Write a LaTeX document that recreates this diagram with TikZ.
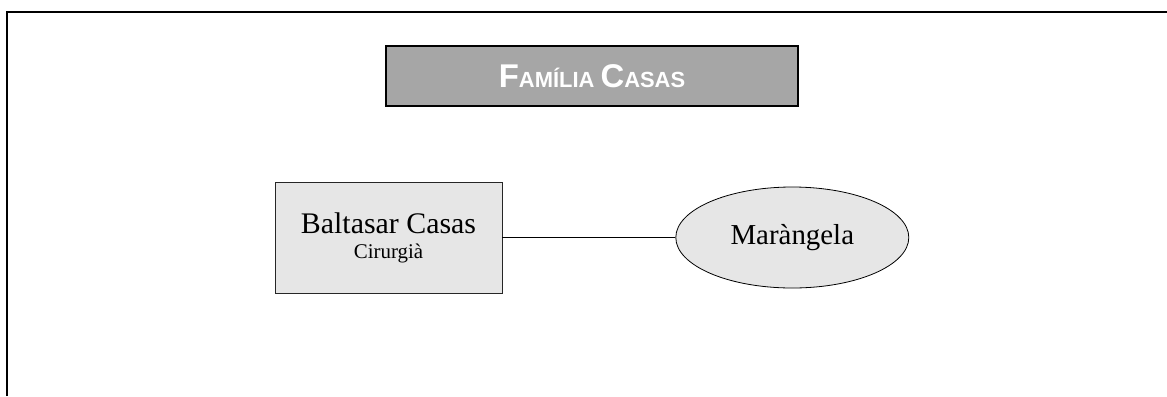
\documentclass[tikz,border=0pt]{standalone}
\usepackage{fontspec}
\setmainfont{Liberation Serif}
\newfontfamily\titlefont{Liberation Sans}
\usetikzlibrary{positioning, shapes.geometric}
\definecolor{titlegray}{HTML}{A6A6A6}
\definecolor{boxgray}{HTML}{E6E6E6}

\begin{document}
\begin{tikzpicture}[x=1bp, y=-1bp,
  titlebox/.style={draw=black, line width=2.5bp, fill=titlegray, minimum width=412bp, minimum height=60bp, inner sep=0pt},
  personbox/.style={draw=black!85, line width=0.8bp, fill=boxgray, minimum width=227bp, minimum height=111bp, align=center, inner sep=0pt},
  partner/.style={ellipse, draw=black, line width=0.8bp, fill=boxgray, minimum width=233bp, minimum height=101bp, inner sep=0pt},
  link/.style={draw=black, line width=0.8bp}]
  \useasboundingbox (0,0) rectangle (1167,396);
  % page frame
  \draw[line width=1.5bp] (7,396) -- (7,12) -- (1167,12);
  \node[titlebox] (title) at (592,76) {\titlefont\bfseries\color{white}%
    \fontsize{33}{33}\selectfont F\fontsize{22}{22}\selectfont AMÍLIA
    \fontsize{33}{33}\selectfont C\fontsize{22}{22}\selectfont ASAS};
  \node[personbox] (baltasar) at (388.5,237.5) {%
    \fontsize{30}{30}\selectfont Baltasar Casas\\[9pt]
    \fontsize{21}{21}\selectfont Cirurgià};
  \node[partner, right=173bp of baltasar] (marangela) {\fontsize{29}{29}\selectfont Maràngela};
  \draw[link] (baltasar) -- (marangela);
\end{tikzpicture}
\end{document}
